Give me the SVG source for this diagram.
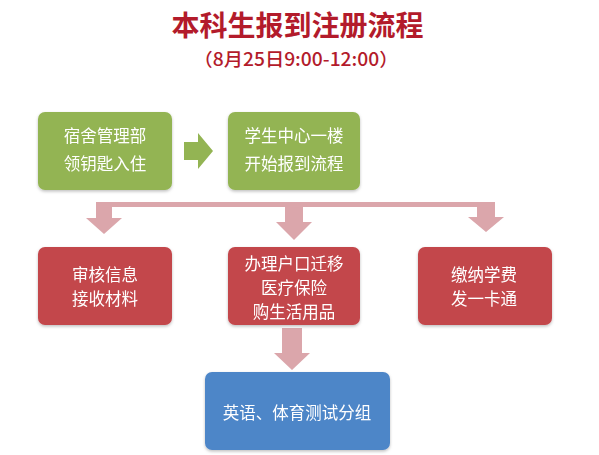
<svg xmlns="http://www.w3.org/2000/svg" width="599" height="455" viewBox="0 0 599 455">
<defs>
<filter id="sh" x="-10%" y="-10%" width="120%" height="125%">
<feDropShadow dx="0" dy="1.5" stdDeviation="1.5" flood-color="#000" flood-opacity="0.25"/>
</filter>
<style>
.t{font-family:"Noto Sans CJK SC","Noto Sans",sans-serif;fill:#fff;font-size:16.5px;text-anchor:middle;dominant-baseline:central}
.g{fill:#93b453}
.r{fill:#c3464b}
.b{fill:#4e86c8}
.p{fill:#dba6ab}
.title{font-family:"Noto Sans CJK SC","Noto Sans",sans-serif;fill:#b31b2b;text-anchor:middle}
</style>
</defs>
<rect width="599" height="455" fill="#fff"/>
<g id="title">
<text class="title" x="297.5" y="36" font-size="28" font-weight="bold">本科生报到注册流程</text>
<text class="title" x="296" y="66" font-size="18" font-weight="500" textLength="205" lengthAdjust="spacingAndGlyphs">（8月25日9:00-12:00）</text>
</g>
<g id="connectors">
<polygon class="g" points="184,142 198,142 198,133 213,151 198,169 198,160 184,160"/>
<rect class="p" x="96" y="202" width="399" height="5"/>
<polygon class="p" points="96,202 112,202 112,218 122,218 104,234 86,218 96,218"/>
<polygon class="p" points="285,202 303,202 303,222 312,222 294,240 276,222 285,222"/>
<polygon class="p" points="477,202 495,202 495,217 504,217 486,232 468,217 477,217"/>
<polygon class="p" points="282,328 302,328 302,353 310,353 292,370 274,353 282,353"/>
</g>
<g id="n1" filter="url(#sh)">
<rect class="g" x="38" y="112" width="134" height="78" rx="7"/>
<text class="t" x="105" y="135">宿舍管理部</text>
<text class="t" x="105" y="163">领钥匙入住</text>
</g>
<g id="n2" filter="url(#sh)">
<rect class="g" x="228" y="112" width="132" height="78" rx="7"/>
<text class="t" x="294" y="135">学生中心一楼</text>
<text class="t" x="294" y="163">开始报到流程</text>
</g>
<g id="n3" filter="url(#sh)">
<rect class="r" x="38" y="247" width="134" height="78" rx="7"/>
<text class="t" x="105" y="274">审核信息</text>
<text class="t" x="105" y="298">接收材料</text>
</g>
<g id="n4" filter="url(#sh)">
<rect class="r" x="228" y="247" width="132" height="78" rx="7"/>
<text class="t" x="294" y="263">办理户口迁移</text>
<text class="t" x="294" y="287">医疗保险</text>
<text class="t" x="294" y="311">购生活用品</text>
</g>
<g id="n5" filter="url(#sh)">
<rect class="r" x="418" y="247" width="134" height="78" rx="7"/>
<text class="t" x="484" y="274">缴纳学费</text>
<text class="t" x="484" y="298">发一卡通</text>
</g>
<g id="n6" filter="url(#sh)">
<rect class="b" x="205" y="372" width="185" height="78" rx="7"/>
<text class="t" x="297" y="412">英语、体育测试分组</text>
</g>
</svg>
